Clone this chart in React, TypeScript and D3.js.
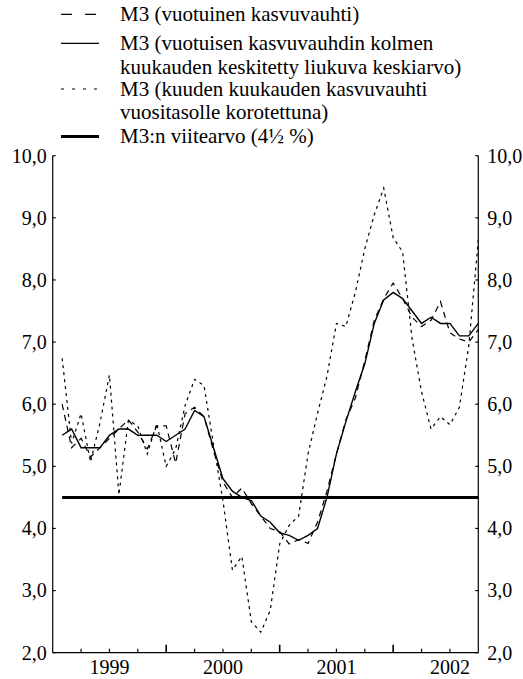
import React from "react";
import * as d3 from "d3";

// months are indexed from Jan 1999 (0) to Sep 2002 (44), plotted at month end
const years = ["1999", "2000", "2001", "2002"];

// M3 annual growth (dashed)
const annual = [
  6.0, 5.3, 5.45, 5.15, 5.3, 5.45, 5.6, 5.75, 5.55, 5.28, 5.65, 5.65,
  5.05, 5.85, 5.95, 5.8, 5.25, 4.75, 4.5, 4.65, 4.4, 4.2, 4.0, 3.95,
  3.75, 3.82, 3.76, 4.1, 4.6, 5.2, 5.75, 6.1, 6.7, 7.35, 7.7, 7.95,
  7.7, 7.4, 7.25, 7.35, 7.65, 7.15, 7.05, 7.0, 7.2,
];

// three-month centred moving average (solid)
const movingAvg = [
  5.5, 5.6, 5.3, 5.3, 5.3, 5.5, 5.6, 5.6, 5.5, 5.5, 5.5, 5.4,
  5.5, 5.6, 5.9, 5.8, 5.3, 4.8, 4.6, 4.5, 4.45, 4.2, 4.1, 3.93,
  3.89, 3.81, 3.89, 4.0, 4.5, 5.2, 5.72, 6.2, 6.65, 7.3, 7.68, 7.8,
  7.7, 7.5, 7.3, 7.4, 7.3, 7.3, 7.1, 7.1, 7.3,
];

// six-month growth annualised (dotted)
const sixMonth = [
  6.74, 5.37, 5.85, 5.07, 5.7, 6.47, 4.54, 5.74, 5.65, 5.2, 5.69, 5.0,
  5.28, 5.98, 6.4, 6.3, 5.35, 4.45, 3.33, 3.55, 2.5, 2.33, 2.68, 3.75,
  4.05, 4.2, 5.2, 5.85, 6.45, 7.3, 7.25, 7.8, 8.5, 9.05, 9.48, 8.68,
  8.45, 7.05, 6.2, 5.6, 5.8, 5.67, 5.95, 6.95, 8.64,
];

const referenceValue = 4.5;
const yTicks = [2, 3, 4, 5, 6, 7, 8, 9, 10];

const legendItems = [
  { key: "annual", lines: ["M3 (vuotuinen kasvuvauhti)"] },
  { key: "avg", lines: ["M3 (vuotuisen kasvuvauhdin kolmen", "kuukauden keskitetty liukuva keskiarvo)"] },
  { key: "six", lines: ["M3 (kuuden kuukauden kasvuvauhti", "vuositasolle korotettuna)"] },
  { key: "ref", lines: ["M3:n viitearvo (4½ %)"] },
];

const FONT = `"Liberation Serif", monospace`;

const App = () => {
  const w = 523;
  const h = 679;

  const x = d3.scaleLinear().domain([0, 45]).range([52.7, 478.3]);
  const y = d3.scaleLinear().domain([2, 10]).range([652.7, 155.7]);
  const fmt = (d: number) => d.toFixed(1).replace(".", ",");

  const line = d3
    .line<number>()
    .x((d, i) => x(i + 1))
    .y((d) => y(d));

  const quarters = d3.range(3, 45, 3);

  const sampleStyle: Record<string, { dash?: string; width: number }> = {
    annual: { dash: "11,13", width: 1.2 },
    avg: { width: 1.2 },
    six: { dash: "3,8", width: 1.2 },
    ref: { width: 3 },
  };
  const rowY = [14.3, 43.3, 89, 136.5];
  const lineGap = 23.5;

  const textStyle = { fontFamily: FONT, fontSize: "20px" };

  return (
    <svg width={w} height={h} style={{ position: "absolute", left: 0, top: 0 }}>
      {/* legend */}
      {legendItems.map((item, k) => (
        <g key={item.key}>
          <line x1={61} x2={99} y1={rowY[k]} y2={rowY[k]} stroke="#000"
            strokeWidth={sampleStyle[item.key].width} strokeDasharray={sampleStyle[item.key].dash} />
          {item.lines.map((t, j) => (
            <text key={j} x={120} y={rowY[k] + j * lineGap + 6.8} style={{ fontFamily: FONT, fontSize: "21px" }}>
              {t}
            </text>
          ))}
        </g>
      ))}

      {/* axes */}
      <line x1={x(0)} x2={x(0)} y1={y(10)} y2={y(2)} stroke="#000" strokeWidth={1.2} />
      <line x1={x(45)} x2={x(45)} y1={y(10)} y2={y(2)} stroke="#000" strokeWidth={1.2} />
      <line x1={x(0)} x2={x(45)} y1={y(2)} y2={y(2)} stroke="#000" strokeWidth={1.2} />
      {yTicks.map((t) => (
        <g key={t}>
          <line x1={x(0)} x2={x(0) + 3} y1={y(t)} y2={y(t)} stroke="#000" strokeWidth={1.2} />
          <line x1={x(45) - 3} x2={x(45)} y1={y(t)} y2={y(t)} stroke="#000" strokeWidth={1.2} />
          <text x={x(0) - 6} y={y(t)} dy="0.34em" textAnchor="end" style={textStyle}>{fmt(t)}</text>
          <text x={x(45) + 9} y={y(t)} dy="0.34em" textAnchor="start" style={textStyle}>{fmt(t)}</text>
        </g>
      ))}
      {quarters.map((q) => (
        <line key={q} x1={x(q)} x2={x(q)} y1={y(2)} y2={y(2) - (q % 12 === 0 ? 8 : 4)}
          stroke="#000" strokeWidth={q % 12 === 0 ? 1.6 : 1.2} />
      ))}
      {years.map((yr, i) => (
        <text key={yr} x={x(i * 12 + 6)} y={674} textAnchor="middle" style={textStyle}>{yr}</text>
      ))}

      {/* reference value */}
      <line x1={x(1)} x2={x(45)} y1={y(referenceValue)} y2={y(referenceValue)} stroke="#000" strokeWidth={3} />

      {/* series */}
      <path d={line(sixMonth) || ""} fill="none" stroke="#000" strokeWidth={1.2} strokeDasharray="3,4" />
      <path d={line(annual) || ""} fill="none" stroke="#000" strokeWidth={1.2} strokeDasharray="6,5" />
      <path d={line(movingAvg) || ""} fill="none" stroke="#000" strokeWidth={1.4} />
    </svg>
  );
};

export default App;
